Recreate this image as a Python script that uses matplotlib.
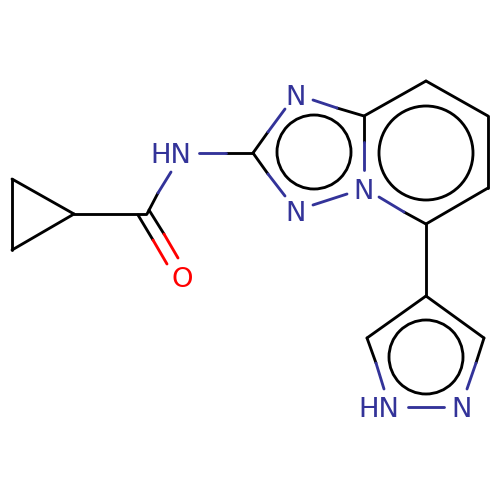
import matplotlib
matplotlib.use("Agg")
import matplotlib.pyplot as plt
from matplotlib.patches import Circle

BLACK = "#000000"
BLUE = "#333399"
RED = "#ff0000"

# Bond pieces, in pixels (x1, y1, x2, y2)
black_bonds = [
    (12, 179, 12, 250), (12, 250, 74, 214), (74, 214, 12, 179),
    (74, 214, 146, 214),
    (147, 214, 158, 193),
    (138, 215, 153, 240), (149, 210, 164, 234),
    (226, 153, 253, 153),
    (253, 153, 268, 132), (253, 153, 268, 174),
    (337, 108, 364, 116),
    (364, 116, 364, 142),
    (364, 116, 426, 81), (426, 81, 488, 116), (488, 116, 488, 188),
    (488, 188, 426, 224), (426, 224, 404, 212),
    (426, 224, 426, 296),
    (426, 296, 484, 338), (426, 296, 367, 338),
    (484, 338, 476, 363), (367, 338, 376, 363),
]
blue_bonds = [
    (158, 193, 171, 172),
    (199, 153, 226, 153),
    (268, 132, 285, 109), (268, 174, 285, 196),
    (313, 100, 337, 108),
    (364, 142, 364, 170),
    (313, 205, 347, 194),
    (379, 197, 404, 212),
    (476, 363, 467, 389), (376, 363, 384, 389),
    (408, 407, 444, 407),
]
red_bonds = [
    (153, 240, 167, 264), (164, 234, 178, 258),
]

# Aromatic rings (centre x, centre y, radius)
rings = [(314, 152, 37), (426, 153, 47), (426, 357, 37)]

# Atom labels (text, centre x, baseline y, colour)
atom_text = ["N", "N", "N", "HN", "HN", "N", "O"]
atom_x = [296, 296, 364, 171, 379, 462, 182]
atom_y = [105, 221, 199, 163, 417, 417, 287]
atom_color = [BLUE, BLUE, BLUE, BLUE, BLUE, BLUE, RED]

LW = 2.05

fig = plt.figure(figsize=(5, 5), dpi=100)
ax = fig.add_axes([0, 0, 1, 1])
ax.set_xlim(0, 500)
ax.set_ylim(500, 0)
ax.axis("off")

for segs, col in [(black_bonds, BLACK), (blue_bonds, BLUE), (red_bonds, RED)]:
    for x1, y1, x2, y2 in segs:
        ax.plot([x1, x2], [y1, y2], color=col, lw=LW, solid_capstyle="round")

for cx, cy, r in rings:
    ax.add_patch(Circle((cx, cy), r, fill=False, edgecolor=BLACK, lw=LW))

for s, x, y, col in zip(atom_text, atom_x, atom_y, atom_color):
    ax.text(x, y, s, color=col, fontsize=19.7, ha="center", va="baseline",
            family="DejaVu Sans")

fig.savefig("out.png", dpi=100, facecolor="white")
